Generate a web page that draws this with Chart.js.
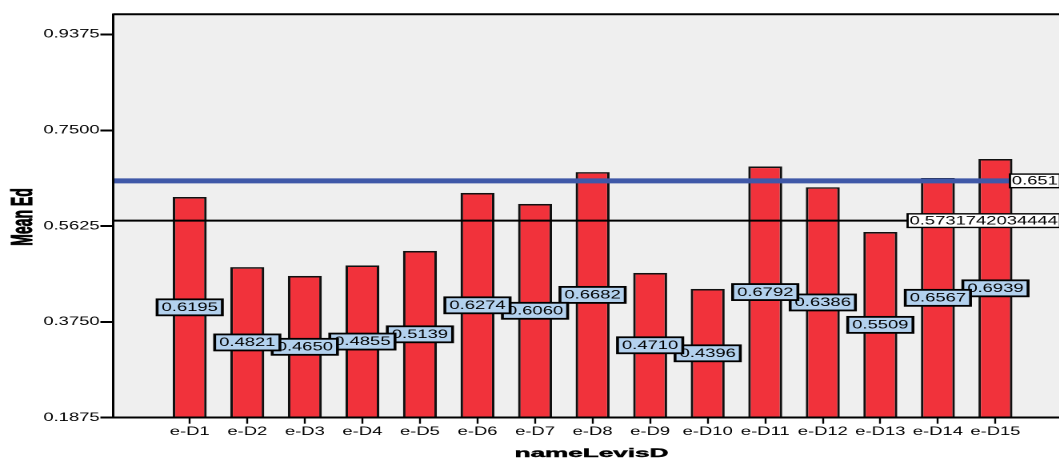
<!DOCTYPE html>
<html>
<head>
<meta charset="utf-8">
<script src="https://cdn.jsdelivr.net/npm/chart.js@4/dist/chart.umd.min.js"></script>
<style>
  html, body { margin: 0; padding: 0; background: #ffffff; width: 1059px; height: 458px; overflow: hidden; }
  /* the chart is laid out narrow and widened horizontally, like the exported SPSS graphic */
  #wrap { position: absolute; left: 0; top: 0; width: 670px; height: 458px; transform: scaleX(1.6); transform-origin: 0 0; }
  canvas { display: block; }
</style>
</head>
<body>
<div id="wrap"><canvas id="c" width="670" height="458" style="width:670px;height:458px"></canvas></div>
<script>
// group names along the x axis
const categories = ['e-D1', 'e-D2', 'e-D3', 'e-D4', 'e-D5', 'e-D6', 'e-D7', 'e-D8',
                    'e-D9', 'e-D10', 'e-D11', 'e-D12', 'e-D13', 'e-D14', 'e-D15'];
// mean Ed per group
const meanEd = [0.6195, 0.4821, 0.4650, 0.4855, 0.5139, 0.6274, 0.6060, 0.6682,
                0.4710, 0.4396, 0.6792, 0.6386, 0.5509, 0.6567, 0.6939];
// y axis tick values
const yTicks = [0.1875, 0.3750, 0.5625, 0.7500, 0.9375];
// reference lines: overall mean (blue) and cut-off (black)
const meanLineValue = 0.651;
const cutLineValue = 0.5731742034444;

const FONT = '"Liberation Sans", Arial, Helvetica, sans-serif';

const frameAndLabels = {
  id: 'frameAndLabels',
  beforeDraw(chart) {
    const { ctx, chartArea: a } = chart;
    ctx.save();
    ctx.fillStyle = '#efefef';
    ctx.fillRect(a.left, a.top, a.right - a.left, a.bottom - a.top);
    ctx.restore();
  },
  afterDatasetsDraw(chart) {
    const { ctx, chartArea: a, scales } = chart;
    ctx.save();
    // top and right frame
    ctx.strokeStyle = '#000';
    ctx.lineWidth = 2;
    ctx.beginPath();
    ctx.moveTo(a.left, a.top);
    ctx.lineTo(a.right, a.top);
    ctx.lineTo(a.right, a.bottom);
    ctx.stroke();

    // reference lines
    const refs = [
      { v: cutLineValue, color: '#000000', width: 2 },
      { v: meanLineValue, color: '#3f58a8', width: 5 }
    ];
    refs.forEach(r => {
      const y = scales.y.getPixelForValue(r.v);
      ctx.strokeStyle = r.color;
      ctx.lineWidth = r.width;
      ctx.beginPath();
      ctx.moveTo(a.left, y);
      ctx.lineTo(a.right, y);
      ctx.stroke();
    });
    ctx.font = '11.5px ' + FONT;
    ctx.textBaseline = 'middle';
    ctx.textAlign = 'left';
    refs.forEach(r => {
      const y = scales.y.getPixelForValue(r.v);
      const txt = String(r.v);
      const w = ctx.measureText(txt).width;
      const right = a.right - 7.5;
      const left = right - w - 2.5;
      ctx.fillStyle = '#ffffff';
      ctx.fillRect(left, y - 6.8, w + 2.5, 13.6);
      ctx.strokeStyle = '#000';
      ctx.lineWidth = 1.4;
      ctx.strokeRect(left, y - 6.8, w + 2.5, 13.6);
      ctx.fillStyle = '#000';
      ctx.fillText(txt, left + 1.2, y + 0.5);
    });

    // value boxes in the middle of each bar
    const meta = chart.getDatasetMeta(0);
    ctx.textAlign = 'center';
    for (let i = meta.data.length - 1; i >= 0; i--) {
      const el = meta.data[i];
      const txt = meanEd[i].toFixed(4);
      const cx = el.x;
      const cy = (el.y + a.bottom) / 2;
      const w = ctx.measureText(txt).width + 5.6;
      ctx.fillStyle = '#b3d1ee';
      ctx.fillRect(cx - w / 2, cy - 8, w, 16);
      ctx.strokeStyle = '#000';
      ctx.lineWidth = 1.8;
      ctx.strokeRect(cx - w / 2, cy - 8, w, 16);
      ctx.fillStyle = '#000';
      ctx.fillText(txt, cx, cy + 0.5);
    }
    ctx.restore();
  },
  afterDraw(chart) {
    const { ctx, chartArea: a } = chart;
    ctx.save();
    ctx.fillStyle = '#000';
    ctx.strokeStyle = '#000';
    // x axis title
    ctx.font = 'bold 11.5px ' + FONT;
    ctx.textAlign = 'center';
    ctx.textBaseline = 'alphabetic';
    ctx.translate(369.7, 457);
    ctx.scale(1.42, 1);
    ctx.lineWidth = 0.4;
    ctx.fillText('nameLevisD', 0, 0);
    ctx.strokeText('nameLevisD', 0, 0);
    ctx.restore();
    // y axis title
    ctx.save();
    ctx.fillStyle = '#000';
    ctx.strokeStyle = '#000';
    ctx.font = 'bold 18px ' + FONT;
    ctx.textAlign = 'center';
    ctx.textBaseline = 'alphabetic';
    ctx.translate(20, (a.top + a.bottom) / 2 + 1);
    ctx.rotate(-Math.PI / 2);
    ctx.scale(0.78, 1);
    ctx.lineWidth = 0.6;
    ctx.fillText('Mean Ed', 0, 0);
    ctx.strokeText('Mean Ed', 0, 0);
    ctx.restore();
  }
};

new Chart(document.getElementById('c'), {
  type: 'bar',
  data: {
    datasets: [{
      data: meanEd.map((v, i) => ({ x: i + 1, y: v })),
      backgroundColor: '#f1323b',
      borderColor: '#111111',
      borderWidth: 1.6,
      barPercentage: 0.59,
      categoryPercentage: 1
    }]
  },
  options: {
    responsive: false,
    animation: false,
    devicePixelRatio: 2,
    layout: { padding: { top: 14.3, left: 0, right: 0, bottom: 0 } },
    plugins: { legend: { display: false }, tooltip: { enabled: false } },
    scales: {
      x: {
        type: 'linear',
        offset: false,
        min: -0.33,
        max: 16.33,
        afterBuildTicks: s => { s.ticks = categories.map((_, i) => ({ value: i + 1 })); },
        afterFit: s => { s.height = 40.3; },
        ticks: {
          callback: v => categories[v - 1],
          font: { family: FONT, size: 11.5 },
          color: '#000',
          padding: 1,
          maxRotation: 0,
          autoSkip: false
        },
        grid: { offset: false, drawOnChartArea: false, tickLength: 6, tickColor: '#000', tickWidth: 1.2 },
        border: { display: true, color: '#000', width: 2, z: 1 }
      },
      y: {
        min: 0.1875,
        max: 0.977,
        afterBuildTicks: s => { s.ticks = yTicks.map(v => ({ value: v })); },
        afterFit: s => { s.width = 70.75; },
        ticks: {
          callback: v => Number(v).toFixed(4),
          font: { family: FONT, size: 11.5 },
          color: '#000',
          padding: 0.5
        },
        grid: { drawOnChartArea: false, tickLength: 8, tickColor: '#000', tickWidth: 2 },
        border: { display: true, color: '#000', width: 1.5, z: 1 }
      }
    }
  },
  plugins: [frameAndLabels]
});
</script>
</body>
</html>
